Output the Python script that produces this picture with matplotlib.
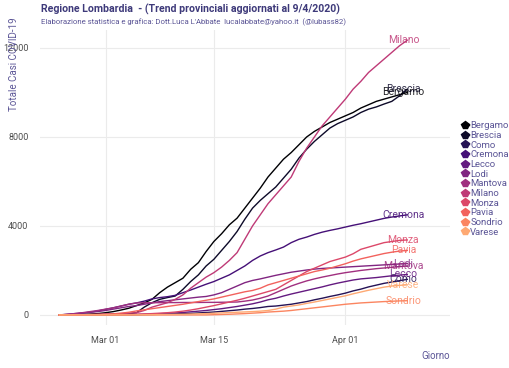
import numpy as np
import pandas as pd
import matplotlib
matplotlib.use('Agg')
import matplotlib.pyplot as plt
import matplotlib.dates as mdates
from matplotlib.lines import Line2D

plt.rcParams['font.family'] = ['Roboto', 'DejaVu Sans']

dates = pd.date_range('2020-02-24', '2020-04-09')

province = ['Bergamo', 'Brescia', 'Como', 'Cremona', 'Lecco', 'Lodi',
            'Mantova', 'Milano', 'Monza', 'Pavia', 'Sondrio', 'Varese']

bergamo = [0, 0, 10, 20, 40, 60, 100, 150, 220, 300,
           420, 540, 700, 1000, 1250, 1450, 1650, 2050, 2350, 2850,
           3300, 3650, 4050, 4350, 4800, 5250, 5700, 6200, 6600, 7000,
           7300, 7650, 8000, 8250, 8450, 8650, 8800, 8950, 9100, 9300,
           9450, 9600, 9700, 9800, 9900, 10000]
brescia = [0, 0, 0, 0, 0, 5, 10, 15, 30, 50,
           100, 350, 550, 700, 780, 850, 1150, 1500, 1800, 2200,
           2500, 2900, 3300, 3750, 4300, 4800, 5150, 5450, 5750, 6150,
           6550, 7050, 7450, 7800, 8100, 8400, 8600, 8750, 8900, 9100,
           9250, 9350, 9480, 9600, 9850, 10150]
como = [0, 0, 0, 0, 0, 0, 1, 2, 4, 6,
        10, 15, 20, 30, 40, 50, 60, 70, 90, 110,
        130, 160, 190, 220, 260, 290, 330, 380, 400, 440,
        480, 540, 600, 680, 750, 830, 900, 980, 1080, 1160,
        1260, 1340, 1420, 1480, 1540, 1600]
cremona = [0, 20, 40, 80, 120, 180, 250, 320, 400, 480,
           540, 620, 720, 780, 820, 880, 1000, 1120, 1250, 1380,
           1500, 1650, 1800, 2000, 2200, 2450, 2650, 2800, 2920, 3050,
           3250, 3400, 3500, 3620, 3720, 3800, 3870, 3950, 4030, 4100,
           4180, 4260, 4340, 4400, 4450, 4500]
lecco = [0, 0, 0, 0, 0, 0, 2, 4, 6, 10,
         20, 30, 40, 55, 70, 90, 110, 140, 170, 200,
         240, 280, 330, 380, 440, 500, 580, 680, 750, 850,
         940, 1020, 1100, 1180, 1260, 1350, 1430, 1500, 1570, 1620,
         1650, 1680, 1720, 1760, 1790, 1820]
lodi = [0, 30, 60, 90, 120, 150, 200, 260, 320, 380,
        420, 480, 540, 600, 640, 680, 720, 760, 800, 830,
        900, 1000, 1150, 1300, 1450, 1550, 1620, 1700, 1780, 1850,
        1920, 1970, 2020, 2060, 2090, 2110, 2130, 2150, 2170, 2190,
        2210, 2230, 2250, 2270, 2290, 2310]
mantova = [0, 20, 60, 100, 150, 200, 260, 320, 400, 480,
           540, 545, 550, 550, 555, 555, 560, 560, 560, 565,
           565, 570, 575, 580, 620, 670, 750, 850, 1000, 1150,
           1300, 1420, 1530, 1620, 1700, 1770, 1840, 1900, 1950, 2000,
           2040, 2080, 2110, 2140, 2170, 2200]
milano = [0, 0, 5, 10, 20, 30, 40, 50, 60, 80,
          100, 200, 350, 450, 550, 700, 900, 1200, 1450, 1700,
          1900, 2150, 2450, 2800, 3400, 4000, 4500, 5000, 5400, 5800,
          6200, 6900, 7500, 8000, 8500, 8900, 9300, 9700, 10150, 10500,
          10900, 11200, 11500, 11800, 12100, 12350]
monza = [0, 0, 0, 0, 0, 0, 5, 10, 15, 20,
         30, 45, 60, 80, 100, 130, 170, 220, 280, 350,
         420, 500, 580, 660, 750, 850, 950, 1050, 1150, 1350,
         1550, 1750, 1950, 2100, 2250, 2400, 2500, 2600, 2750, 2950,
         3050, 3150, 3250, 3300, 3350, 3370]
pavia = [0, 0, 5, 10, 15, 20, 30, 50, 80, 120,
         180, 230, 280, 330, 380, 430, 480, 540, 600, 660,
         720, 800, 880, 960, 1040, 1100, 1200, 1350, 1450, 1550,
         1650, 1750, 1850, 1950, 2020, 2100, 2200, 2300, 2420, 2520,
         2600, 2680, 2760, 2820, 2870, 2900]
sondrio = [0, 0, 0, 0, 0, 0, 0, 0, 0, 0,
           0, 0, 0, 0, 0, 0, 0, 0, 0, 0,
           10, 20, 30, 45, 60, 80, 100, 130, 150, 170,
           200, 240, 280, 320, 360, 400, 440, 480, 510, 540,
           560, 580, 600, 615, 630, 640]
varese = [0, 0, 0, 0, 0, 0, 0, 0, 0, 0,
          5, 8, 12, 16, 20, 25, 30, 40, 50, 60,
          75, 90, 105, 120, 135, 150, 170, 200, 260, 350,
          400, 450, 520, 580, 650, 720, 790, 860, 950, 1030,
          1110, 1180, 1250, 1300, 1330, 1350]

valori = [bergamo, brescia, como, cremona, lecco, lodi,
          mantova, milano, monza, pavia, sondrio, varese]

colori = plt.cm.magma(np.linspace(0, 0.82, 12))
testo_col = '#5b5596'

fig = plt.figure(figsize=(5.1, 3.68), dpi=100)
ax = fig.add_axes([0.078, 0.117, 0.804, 0.801])

for nome, v, c in zip(province, valori, colori):
    ax.plot(dates, v, color=c, lw=1.0)
    ax.text(dates[-1] - pd.Timedelta(hours=12), v[-1], nome, color=c,
            fontsize=7.5, ha='center', va='center', alpha=0.85)

ax.set_xlim(pd.Timestamp('2020-02-21 12:00'), pd.Timestamp('2020-04-14 12:00'))
ax.set_ylim(-450, 12800)
ax.set_yticks([0, 4000, 8000, 12000])
ax.set_xticks(pd.to_datetime(['2020-03-01', '2020-03-15', '2020-04-01']))
ax.xaxis.set_major_formatter(mdates.DateFormatter('%b %d'))
ax.grid(color='#ebebeb', lw=0.8)
ax.set_axisbelow(True)
for s in ax.spines.values():
    s.set_visible(False)
ax.tick_params(length=0, labelsize=6.5, labelcolor='#4d4d4d', pad=8)

ax.set_ylabel('Totale Casi COVID-19', color=testo_col, fontsize=7, loc='top')
ax.yaxis.set_label_coords(-0.05, 1.044)
ax.set_xlabel('Giorno', color=testo_col, fontsize=7, loc='right', labelpad=4)

handles = [Line2D([0], [0], color=c, lw=1, marker='p', markersize=6) for c in colori]
leg = ax.legend(handles, province, loc='center left', bbox_to_anchor=(1.03, 0.495),
                frameon=False, fontsize=6.8, labelspacing=0.07, handlelength=0.7,
                handletextpad=0.15, borderaxespad=0, borderpad=0)
for t in leg.get_texts():
    t.set_color(testo_col)

fig.text(0.08, 0.9755, 'Regione Lombardia  - (Trend provinciali aggiornati al 9/4/2020)',
         fontsize=7.6, fontweight='bold', color='#3e3a7a', va='center')
fig.text(0.08, 0.94, "Elaborazione statistica e grafica: Dott.Luca L'Abbate  lucalabbate@yahoo.it  (@lubass82)",
         fontsize=5.6, color=testo_col, va='center')

fig.savefig('out.png', dpi=100)
